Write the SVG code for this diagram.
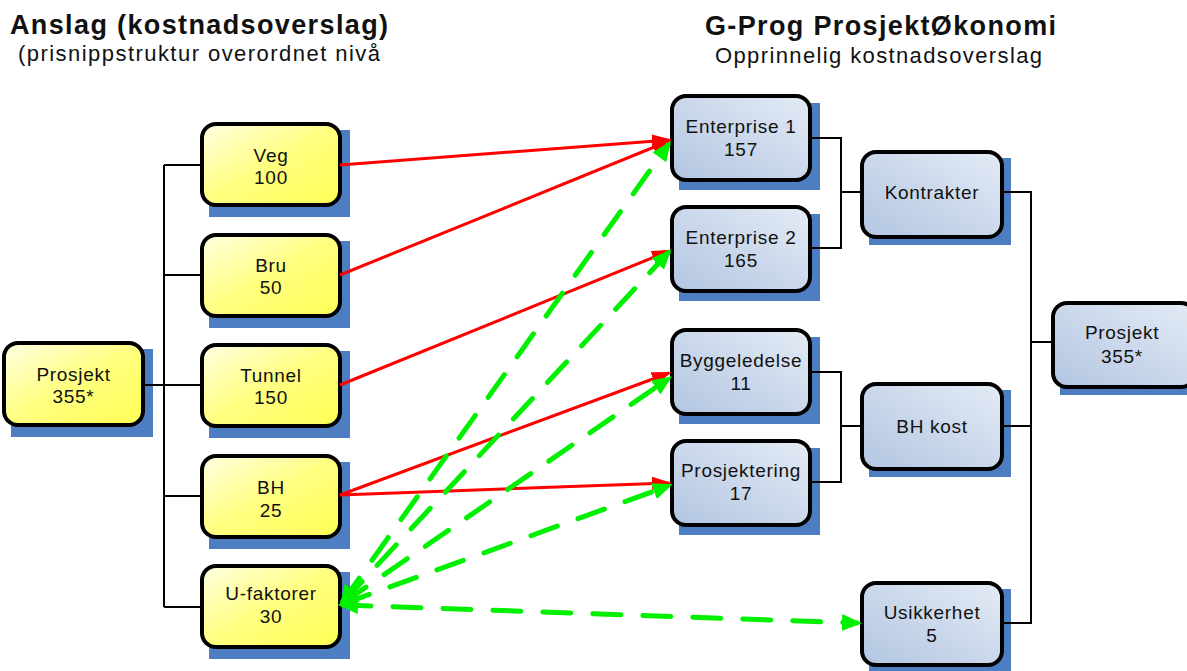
<svg xmlns="http://www.w3.org/2000/svg" width="1187" height="671" viewBox="0 0 1187 671">
<style>
text{font-family:"Liberation Sans",Arial,sans-serif;fill:#111;}
.h1{font-size:27px;font-weight:bold;}
.h2{font-size:22px;}
.t{font-size:19px;letter-spacing:0.7px;text-anchor:middle;}
.sh{fill:#4e7ec2;}
.y{fill:url(#gy);stroke:#000;stroke-width:4;}
.b{fill:url(#gb);stroke:#000;stroke-width:4;}
.ln{fill:none;stroke:#000;stroke-width:2;}
.red{fill:none;stroke:#ff0000;stroke-width:3;marker-end:url(#ar);}
.grn{fill:none;stroke:#00f000;stroke-width:5;stroke-dasharray:28 22;stroke-linecap:round;marker-start:url(#ag);marker-end:url(#ag);}
</style>
<defs>
<linearGradient id="gy" x1="0" y1="0" x2="1" y2="1">
<stop offset="0" stop-color="#ffffe2"/>
<stop offset="0.5" stop-color="#ffff80"/>
<stop offset="1" stop-color="#ffff55"/>
</linearGradient>
<linearGradient id="gb" x1="1" y1="0" x2="0" y2="1">
<stop offset="0" stop-color="#e4ebf5"/>
<stop offset="1" stop-color="#b2c5e1"/>
</linearGradient>
<marker id="ar" markerUnits="userSpaceOnUse" viewBox="0 0 20 14" refX="17" refY="7" markerWidth="20" markerHeight="14" orient="auto-start-reverse">
<path d="M0,0 L20,7 L0,14 z" fill="#ff0000"/>
</marker>
<marker id="ag" markerUnits="userSpaceOnUse" viewBox="0 0 20 17" refX="15" refY="8.5" markerWidth="20" markerHeight="17" orient="auto-start-reverse">
<path d="M0,0 L20,8.5 L0,17 z" fill="#00f000"/>
</marker>
</defs>

<g id="headings">
<text class="h1" x="10" y="34" textLength="378" lengthAdjust="spacing">Anslag (kostnadsoverslag)</text>
<text class="h2" x="18" y="61" textLength="362" lengthAdjust="spacing">(prisnippstruktur overordnet nivå</text>
<text class="h1" x="705" y="35" textLength="351" lengthAdjust="spacing">G-Prog ProsjektØkonomi</text>
<text class="h2" x="715" y="63" textLength="327" lengthAdjust="spacing">Opprinnelig kostnadsoverslag</text>
</g>

<g id="n-prosjekt-l">
<rect class="sh" x="11" y="349" width="142" height="88"/>
<rect class="y" x="4" y="343" width="139" height="82" rx="14"/>
<text class="t" x="73.5" y="381">Prosjekt</text>
<text class="t" x="73.5" y="403">355*</text>
</g>
<g id="n-veg">
<rect class="sh" x="209" y="130" width="141" height="87"/>
<rect class="y" x="202" y="124" width="138" height="81" rx="14"/>
<text class="t" x="271" y="162">Veg</text>
<text class="t" x="271" y="184">100</text>
</g>
<g id="n-bru">
<rect class="sh" x="209" y="241" width="141" height="87"/>
<rect class="y" x="202" y="235" width="138" height="81" rx="14"/>
<text class="t" x="271" y="272">Bru</text>
<text class="t" x="271" y="294">50</text>
</g>
<g id="n-tunnel">
<rect class="sh" x="209" y="351" width="141" height="87"/>
<rect class="y" x="202" y="345" width="138" height="81" rx="14"/>
<text class="t" x="271" y="382">Tunnel</text>
<text class="t" x="271" y="404">150</text>
</g>
<g id="n-bh">
<rect class="sh" x="209" y="462" width="141" height="87"/>
<rect class="y" x="202" y="456" width="138" height="81" rx="14"/>
<text class="t" x="271" y="494">BH</text>
<text class="t" x="271" y="517">25</text>
</g>
<g id="n-ufaktorer">
<rect class="sh" x="209" y="572" width="141" height="87"/>
<rect class="y" x="202" y="566" width="138" height="81" rx="14"/>
<text class="t" x="271" y="600">U-faktorer</text>
<text class="t" x="271" y="623">30</text>
</g>

<g id="n-enterprise1">
<rect class="sh" x="679" y="103" width="141" height="87"/>
<rect class="b" x="672" y="96" width="138" height="84" rx="14"/>
<text class="t" x="741" y="133">Enterprise 1</text>
<text class="t" x="741" y="156">157</text>
</g>
<g id="n-enterprise2">
<rect class="sh" x="679" y="214" width="141" height="87"/>
<rect class="b" x="672" y="207" width="138" height="84" rx="14"/>
<text class="t" x="741" y="244">Enterprise 2</text>
<text class="t" x="741" y="267">165</text>
</g>
<g id="n-byggeledelse">
<rect class="sh" x="679" y="337" width="141" height="87"/>
<rect class="b" x="672" y="330" width="138" height="84" rx="14"/>
<text class="t" x="741" y="367">Byggeledelse</text>
<text class="t" x="741" y="390">11</text>
</g>
<g id="n-prosjektering">
<rect class="sh" x="679" y="448" width="141" height="87"/>
<rect class="b" x="672" y="441" width="138" height="84" rx="14"/>
<text class="t" x="741" y="477">Prosjektering</text>
<text class="t" x="741" y="500">17</text>
</g>

<g id="n-kontrakter">
<rect class="sh" x="869" y="158" width="142" height="87"/>
<rect class="b" x="862" y="152" width="140" height="85" rx="14"/>
<text class="t" x="932" y="199">Kontrakter</text>
</g>
<g id="n-bhkost">
<rect class="sh" x="869" y="390" width="142" height="87"/>
<rect class="b" x="862" y="384" width="140" height="85" rx="14"/>
<text class="t" x="932" y="433">BH kost</text>
</g>
<g id="n-usikkerhet">
<rect class="sh" x="869" y="589" width="142" height="87"/>
<rect class="b" x="862" y="583" width="140" height="82" rx="14"/>
<text class="t" x="932" y="619">Usikkerhet</text>
<text class="t" x="932" y="642">5</text>
</g>

<g id="n-prosjekt-r">
<rect class="sh" x="1060" y="309" width="142" height="86"/>
<rect class="b" x="1053" y="303" width="142" height="84" rx="14"/>
<text class="t" x="1122" y="339">Prosjekt</text>
<text class="t" x="1122" y="363">355*</text>
</g>

<g id="connectors">
<path class="ln" d="M143,385 H202 M164,165 V607 M164,165 H202 M164,275 H202 M164,496 H202 M164,607 H202"/>
<path class="ln" d="M810,138 H841 V248 H810 M841,192 H862 M810,372 H841 V482 H810 M841,426 H862"/>
<path class="ln" d="M1002,192 H1031 V623 H1002 M1002,426 H1031 M1031,342 H1053"/>
<line class="red" x1="340" y1="165" x2="669" y2="140"/>
<line class="red" x1="340" y1="275" x2="669" y2="141"/>
<line class="red" x1="340" y1="385" x2="669" y2="251"/>
<line class="red" x1="340" y1="495" x2="669" y2="373"/>
<line class="red" x1="340" y1="495" x2="669" y2="483"/>
<line class="grn" x1="343" y1="601" x2="668" y2="145"/>
<line class="grn" x1="343" y1="602" x2="668" y2="253"/>
<line class="grn" x1="343" y1="603" x2="668" y2="379"/>
<line class="grn" x1="343" y1="604" x2="668" y2="486"/>
<line class="grn" x1="343" y1="605" x2="857" y2="623"/>
</g>
</svg>
